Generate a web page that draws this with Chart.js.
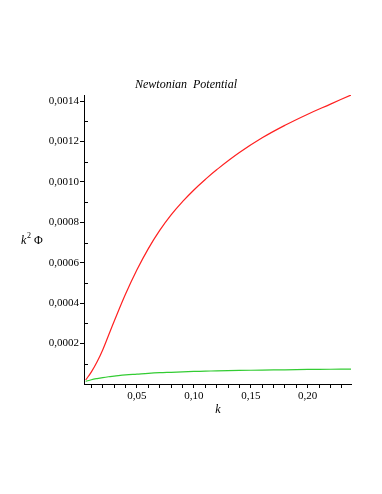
<!DOCTYPE html>
<html>
<head>
<meta charset="utf-8">
<script src="https://cdn.jsdelivr.net/npm/chart.js@4"></script>
<style>
    html, body { margin: 0; padding: 0; background: #fff; }
    #chart { display: block; }
</style>
</head>
<body>
<canvas id="chart" width="382" height="494"></canvas>
<script>
/* Newtonian potential, k^2 Phi against k */

const kValues = [0.005, 0.01, 0.015, 0.02, 0.025, 0.03, 0.04, 0.05, 0.06, 0.07,
                 0.08, 0.09, 0.10, 0.11, 0.12, 0.14, 0.16, 0.18, 0.20, 0.22, 0.238];
const redValues = [0.00002, 0.00006, 0.00011, 0.00017, 0.00024, 0.00031, 0.000445, 0.000565, 0.00067, 0.00076,
                   0.000837, 0.000902, 0.00096, 0.001012, 0.00106, 0.001145, 0.001218, 0.00128, 0.001335, 0.001385, 0.00143];
const greenValues = [0.000013, 0.000021, 0.000027, 0.000032, 0.000036, 0.000039, 0.000045, 0.000049, 0.000053, 0.000056,
                     0.000058, 0.00006, 0.000062, 0.0000635, 0.000065, 0.000067, 0.000069, 0.00007, 0.000072, 0.000073, 0.000074];
const xTickLabels = ['0,05', '0,10', '0,15', '0,20'];
const yTickLabels = ['0,0002', '0,0004', '0,0006', '0,0008', '0,0010', '0,0012', '0,0014'];

const titleText = 'Newtonian  Potential';
const serif = "'Liberation Serif', 'DejaVu Serif', serif";

function toPoints(values) {
    return kValues.map((k, i) => ({ x: k, y: values[i] }));
}

function isMajorY(v) {
    const i = Math.round(v * 10000);
    return i % 2 === 0 && i !== 0;
}

// minor y ticks point into the plot, title and axis names
const extrasPlugin = {
    id: 'extras',
    afterDraw(chart) {
        const ctx = chart.ctx;
        const y = chart.scales.y;
        const left = chart.chartArea.left;
        ctx.save();
        ctx.strokeStyle = '#000';
        ctx.lineWidth = 1;
        y.ticks.forEach(t => {
            if (isMajorY(t.value) || t.value === 0) return;
            const py = Math.round(y.getPixelForValue(t.value)) + 0.5;
            ctx.beginPath();
            ctx.moveTo(left, py);
            ctx.lineTo(left + 4, py);
            ctx.stroke();
        });

        ctx.fillStyle = '#000';
        ctx.textBaseline = 'middle';
        ctx.textAlign = 'center';
        ctx.font = 'italic 12px ' + serif;
        ctx.fillText(titleText, 186, 85);
        ctx.fillText('k', 218, 410);

        // k² Φ
        ctx.textAlign = 'left';
        ctx.font = 'italic 12px ' + serif;
        ctx.fillText('k', 21, 241);
        ctx.font = '8px ' + serif;
        ctx.fillText('2', 27, 236);
        ctx.font = '12px ' + serif;
        ctx.fillText('Φ', 34, 241);
        ctx.restore();
    }
};

const chart = new Chart(document.getElementById('chart'), {
    type: 'line',
    data: {
        datasets: [
            {
                data: toPoints(redValues),
                borderColor: '#ff2020',
                borderWidth: 1.2,
                pointRadius: 0,
                tension: 0.4
            },
            {
                data: toPoints(greenValues),
                borderColor: '#33cc33',
                borderWidth: 1.2,
                pointRadius: 0,
                tension: 0.4
            }
        ]
    },
    options: {
        responsive: false,
        animation: false,
        layout: { padding: { top: 95, right: 31, left: 0, bottom: 0 } },
        plugins: {
            legend: { display: false },
            title: { display: false },
            tooltip: { enabled: false }
        },
        scales: {
            x: {
                type: 'linear',
                min: 0.0035,
                max: 0.238,
                afterFit(scale) { scale.height = 110; },
                border: { color: '#000', width: 1 },
                grid: { drawOnChartArea: false, tickLength: 4, color: '#000' },
                ticks: {
                    stepSize: 0.01,
                    includeBounds: false,
                    autoSkip: false,
                    maxRotation: 0,
                    padding: 2,
                    color: '#000',
                    font: { family: serif, size: 11 },
                    callback(v) {
                        const i = Math.round(v * 100);
                        if (i % 5 !== 0 || i === 0) return '';
                        return xTickLabels[i / 5 - 1] || '';
                    }
                }
            },
            y: {
                min: 0,
                max: 0.00143,
                afterFit(scale) { scale.width = 84; },
                border: { color: '#000', width: 1 },
                grid: {
                    drawOnChartArea: false,
                    tickLength: 4,
                    color: ctx => (ctx.tick && isMajorY(ctx.tick.value)) ? '#000' : 'rgba(0,0,0,0)'
                },
                ticks: {
                    stepSize: 0.0001,
                    includeBounds: false,
                    autoSkip: false,
                    padding: 1,
                    color: '#000',
                    font: { family: serif, size: 11 },
                    callback(v) {
                        if (!isMajorY(v)) return '';
                        return yTickLabels[Math.round(v * 10000) / 2 - 1] || '';
                    }
                }
            }
        }
    },
    plugins: [extrasPlugin]
});
</script>
</body>
</html>
